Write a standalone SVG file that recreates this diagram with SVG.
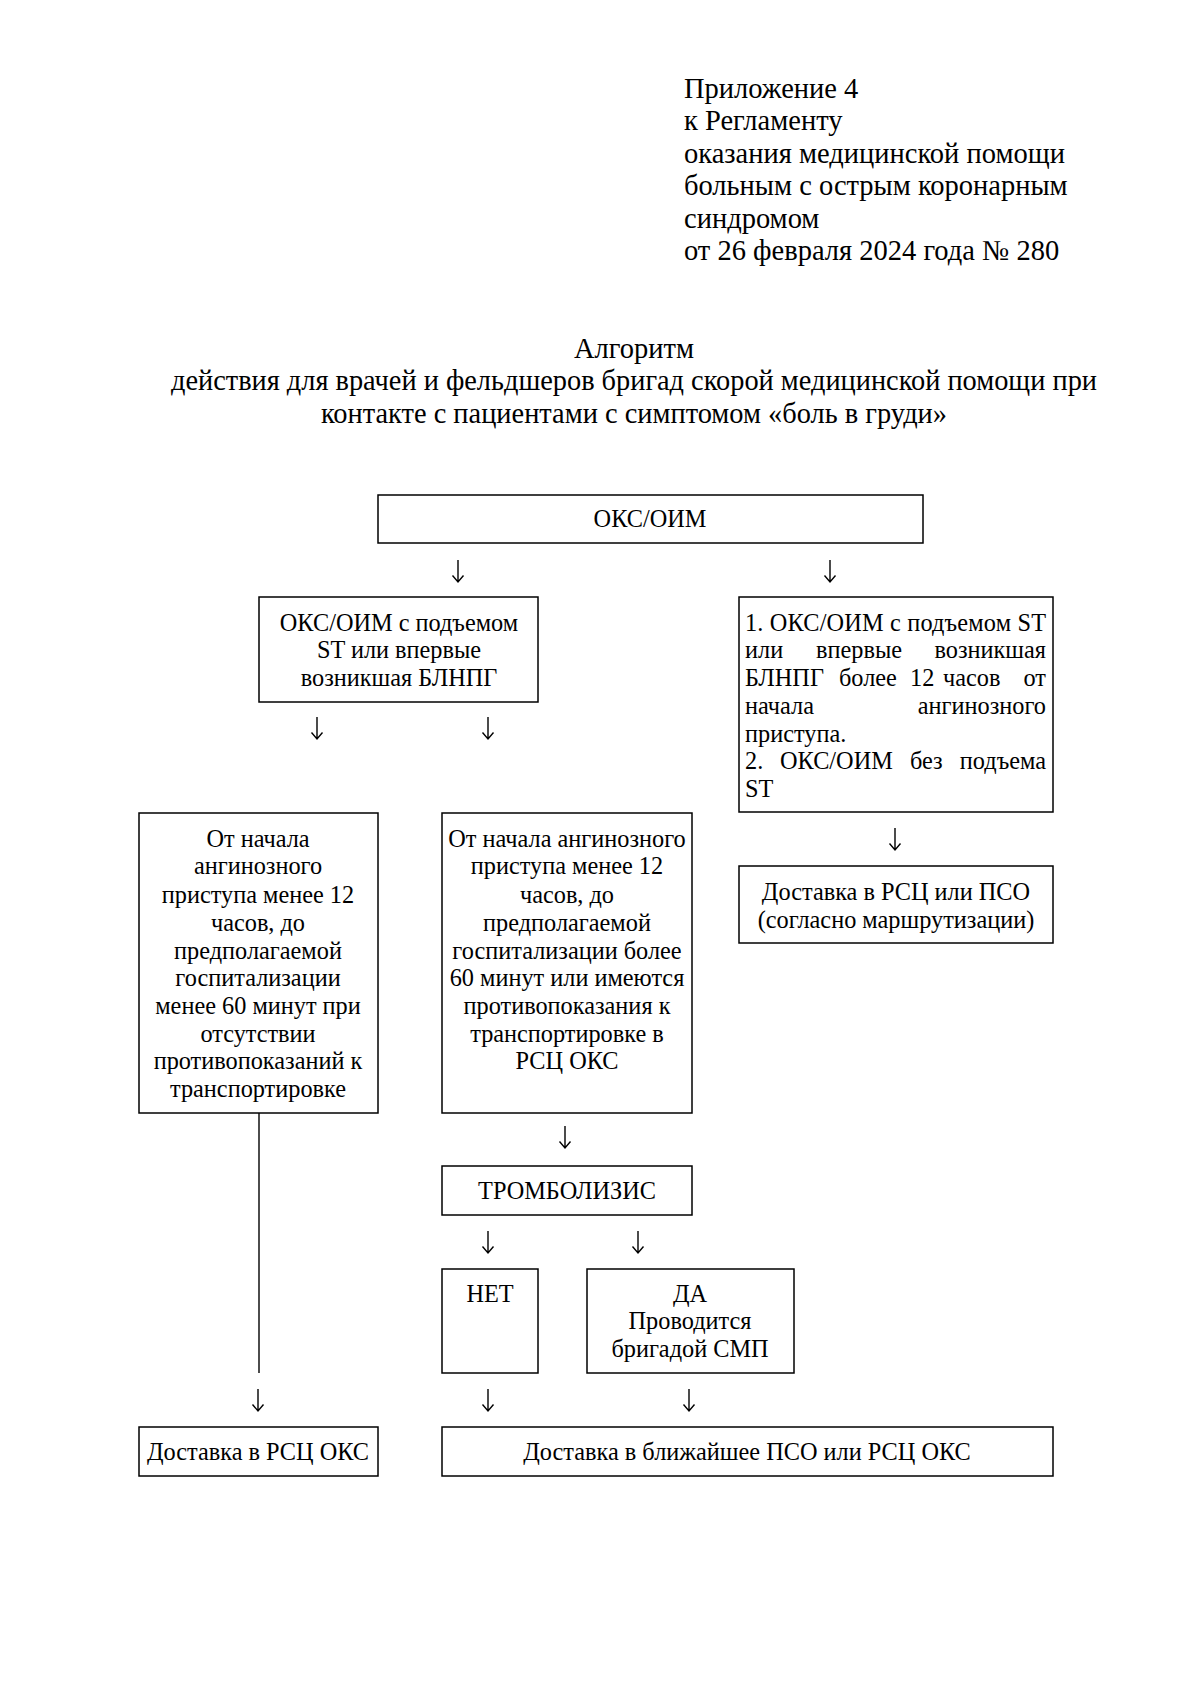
<svg xmlns="http://www.w3.org/2000/svg" width="1200" height="1698" viewBox="0 0 1200 1698">
<style>
text{font-family:"Liberation Serif","Times New Roman",serif;fill:#000}
.h{font-size:28.5px}
.t{font-size:28.5px;text-anchor:middle}
.b{font-size:24.3px;text-anchor:middle}
.j{font-size:24.3px}
.e{text-anchor:end}
rect{fill:#fff;stroke:#000;stroke-width:1.5}
.c path{fill:none;stroke:#000;stroke-width:1.4}
</style>
<rect x="0" y="0" width="1200" height="1698" style="stroke:none"/>
<g id="header">
<text class="h" x="684" y="98">Приложение 4</text>
<text class="h" x="684" y="130">к Регламенту</text>
<text class="h" x="684" y="163">оказания медицинской помощи</text>
<text class="h" x="684" y="195">больным с острым коронарным</text>
<text class="h" x="684" y="228">синдромом</text>
<text class="h" x="684" y="260">от 26 февраля 2024 года № 280</text>
</g>
<g id="title">
<text class="t" x="634" y="358">Алгоритм</text>
<text class="t" x="634" y="390" textLength="926" lengthAdjust="spacingAndGlyphs">действия для врачей и фельдшеров бригад скорой медицинской помощи при</text>
<text class="t" x="634" y="423" textLength="626" lengthAdjust="spacingAndGlyphs">контакте с пациентами с симптомом «боль в груди»</text>
</g>
<g class="c" id="connectors">
<path d="M458 560V582M452.5 575.5L458 582L463.5 575.5"/>
<path d="M830 560V582M824.5 575.5L830 582L835.5 575.5"/>
<path d="M317 717V739M311.5 732.5L317 739L322.5 732.5"/>
<path d="M488 717V739M482.5 732.5L488 739L493.5 732.5"/>
<path d="M895 828V850M889.5 843.5L895 850L900.5 843.5"/>
<path d="M259 1113V1373"/>
<path d="M565 1126V1148M559.5 1141.5L565 1148L570.5 1141.5"/>
<path d="M488 1231V1253M482.5 1246.5L488 1253L493.5 1246.5"/>
<path d="M638 1231V1253M632.5 1246.5L638 1253L643.5 1246.5"/>
<path d="M258 1389V1411M252.5 1404.5L258 1411L263.5 1404.5"/>
<path d="M488 1389V1411M482.5 1404.5L488 1411L493.5 1404.5"/>
<path d="M689 1389V1411M683.5 1404.5L689 1411L694.5 1404.5"/>
</g>
<g id="n-oks">
<rect x="378" y="495" width="545" height="48"/>
<text class="b" x="650" y="527">ОКС/ОИМ</text>
</g>
<g id="n-st">
<rect x="259" y="597" width="279" height="105"/>
<text class="b" x="399" y="631">ОКС/ОИМ с подъемом</text>
<text class="b" x="399" y="658">ST или впервые</text>
<text class="b" x="399" y="686">возникшая БЛНПГ</text>
</g>
<g id="n-late">
<rect x="739" y="597" width="314" height="215"/>
<text class="j" x="745" y="631" textLength="301" lengthAdjust="spacing">1. ОКС/ОИМ с подъемом ST</text>
<text class="j" x="745" y="658">или</text>
<text class="j" x="859" y="658" text-anchor="middle">впервые</text>
<text class="j e" x="1046" y="658">возникшая</text>
<text class="j" x="745" y="686">БЛНПГ</text>
<text class="j" x="839" y="686">более</text>
<text class="j" x="910" y="686">12</text>
<text class="j" x="943" y="686">часов</text>
<text class="j e" x="1046" y="686">от</text>
<text class="j" x="745" y="714">начала</text>
<text class="j e" x="1046" y="714">ангинозного</text>
<text class="j" x="745" y="742">приступа.</text>
<text class="j" x="745" y="769">2.</text>
<text class="j" x="780" y="769">ОКС/ОИМ</text>
<text class="j" x="910" y="769">без</text>
<text class="j e" x="1046" y="769">подъема</text>
<text class="j" x="745" y="797">ST</text>
</g>
<g id="n-route">
<rect x="739" y="866" width="314" height="77"/>
<text class="b" x="896" y="900">Доставка в РСЦ или ПСО</text>
<text class="b" x="896" y="928">(согласно маршрутизации)</text>
</g>
<g id="n-less60">
<rect x="139" y="813" width="239" height="300"/>
<text class="b" x="258" y="847">От начала</text>
<text class="b" x="258" y="874">ангинозного</text>
<text class="b" x="258" y="903">приступа менее 12</text>
<text class="b" x="258" y="931">часов, до</text>
<text class="b" x="258" y="959">предполагаемой</text>
<text class="b" x="258" y="986">госпитализации</text>
<text class="b" x="258" y="1014">менее 60 минут при</text>
<text class="b" x="258" y="1042">отсутствии</text>
<text class="b" x="258" y="1069">противопоказаний к</text>
<text class="b" x="258" y="1097">транспортировке</text>
</g>
<g id="n-more60">
<rect x="442" y="813" width="250" height="300"/>
<text class="b" x="567" y="847">От начала ангинозного</text>
<text class="b" x="567" y="874">приступа менее 12</text>
<text class="b" x="567" y="903">часов, до</text>
<text class="b" x="567" y="931">предполагаемой</text>
<text class="b" x="567" y="959">госпитализации более</text>
<text class="b" x="567" y="986">60 минут или имеются</text>
<text class="b" x="567" y="1014">противопоказания к</text>
<text class="b" x="567" y="1042">транспортировке в</text>
<text class="b" x="567" y="1069">РСЦ ОКС</text>
</g>
<g id="n-tromb">
<rect x="442" y="1166" width="250" height="49"/>
<text class="b" x="567" y="1199">ТРОМБОЛИЗИС</text>
</g>
<g id="n-no">
<rect x="442" y="1269" width="96" height="104"/>
<text class="b" x="490" y="1302">НЕТ</text>
</g>
<g id="n-yes">
<rect x="587" y="1269" width="207" height="104"/>
<text class="b" x="690" y="1302">ДА</text>
<text class="b" x="690" y="1329">Проводится</text>
<text class="b" x="690" y="1357">бригадой СМП</text>
</g>
<g id="n-rsc">
<rect x="139" y="1427" width="239" height="49"/>
<text class="b" x="258" y="1460">Доставка в РСЦ ОКС</text>
</g>
<g id="n-nearest">
<rect x="442" y="1427" width="611" height="49"/>
<text class="b" x="747" y="1460">Доставка в ближайшее ПСО или РСЦ ОКС</text>
</g>
</svg>
